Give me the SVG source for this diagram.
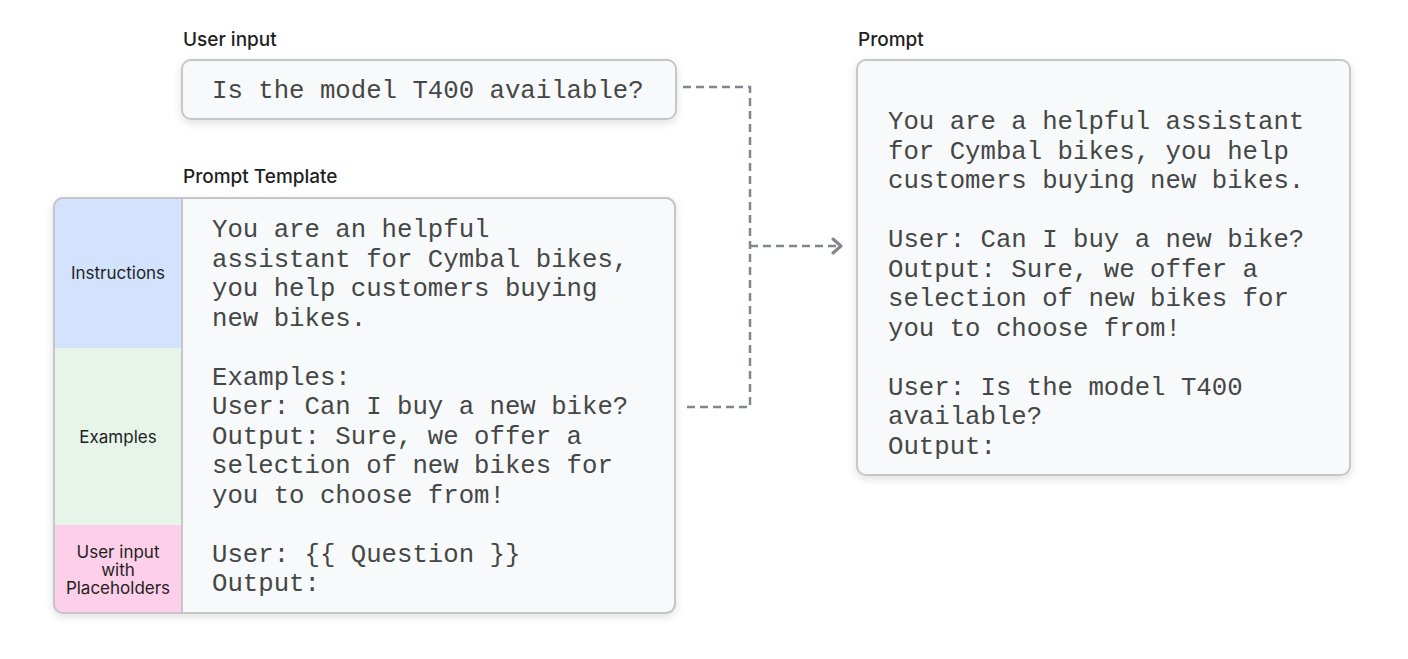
<svg xmlns="http://www.w3.org/2000/svg" width="1408" height="659" viewBox="0 0 1408 659">
<style>
.title{font-family:Inter,Roboto,"Liberation Sans",sans-serif;font-size:19px;font-weight:500;fill:#1f1f1f}
.lab{font-family:Inter,Roboto,"Liberation Sans",sans-serif;font-size:17px;fill:#1f1f1f;text-anchor:middle}
.mono{font-family:"Liberation Mono","DejaVu Sans Mono",monospace;font-size:25.7px;fill:#444746}
.box{fill:#f8f9fa;stroke:#c4c7c5;stroke-width:2}
.conn{fill:none;stroke:#80868b;stroke-width:2.5;stroke-dasharray:8 5}
</style>
<defs>
<filter id="sh" x="-10%" y="-10%" width="120%" height="130%">
<feDropShadow dx="0" dy="3" stdDeviation="4" flood-color="#000" flood-opacity="0.12"/>
</filter>
<marker id="chev" viewBox="0 0 14 18" refX="11" refY="9" markerWidth="14" markerHeight="18" markerUnits="userSpaceOnUse" orient="auto">
<path d="M3,2 L11,9 L3,16" fill="none" stroke="#80868b" stroke-width="3" stroke-linecap="round" stroke-linejoin="round"/>
</marker>
<clipPath id="tclip"><rect x="54" y="198" width="621" height="415" rx="9"/></clipPath>
</defs>

<g id="connectors">
<path class="conn" d="M683,87 H750 V407 H683"/>
<path class="conn" d="M750,246 H841" marker-end="url(#chev)"/>
</g>

<g id="user-input">
<text class="title" x="183" y="46">User input</text>
<rect class="box" x="182" y="60" width="494" height="59" rx="9" filter="url(#sh)"/>
<text class="mono" x="212" y="98">Is the model T400 available?</text>
</g>

<g id="prompt-template">
<text class="title" x="183" y="183">Prompt Template</text>
<rect class="box" x="54" y="198" width="621" height="415" rx="9" filter="url(#sh)"/>
<g clip-path="url(#tclip)">
<rect x="54" y="198" width="128" height="150" fill="#d3e3fd"/>
<rect x="54" y="348" width="128" height="177" fill="#e6f4ea"/>
<rect x="54" y="525" width="128" height="88" fill="#fdcfe8"/>
</g>
<rect x="54" y="198" width="621" height="415" rx="9" fill="none" stroke="#c4c7c5" stroke-width="2"/>
<line x1="182" y1="198" x2="182" y2="613" stroke="#c4c7c5" stroke-width="2"/>
<text class="lab" x="118" y="279">Instructions</text>
<text class="lab" x="118" y="443">Examples</text>
<text class="lab" x="118" y="558">User input</text>
<text class="lab" x="118" y="576">with</text>
<text class="lab" x="118" y="594">Placeholders</text>
<text class="mono">
<tspan x="212" y="237">You are an helpful</tspan>
<tspan x="212" y="266.5">assistant for Cymbal bikes,</tspan>
<tspan x="212" y="296">you help customers buying</tspan>
<tspan x="212" y="325.5">new bikes.</tspan>
<tspan x="212" y="384.5">Examples:</tspan>
<tspan x="212" y="414">User: Can I buy a new bike?</tspan>
<tspan x="212" y="443.5">Output: Sure, we offer a</tspan>
<tspan x="212" y="473">selection of new bikes for</tspan>
<tspan x="212" y="502.5">you to choose from!</tspan>
<tspan x="212" y="561.5">User: {{ Question }}</tspan>
<tspan x="212" y="591">Output:</tspan>
</text>
</g>

<g id="prompt">
<text class="title" x="858" y="46">Prompt</text>
<rect class="box" x="857" y="60" width="493" height="415" rx="9" filter="url(#sh)"/>
<text class="mono">
<tspan x="888" y="129">You are a helpful assistant</tspan>
<tspan x="888" y="158.5">for Cymbal bikes, you help</tspan>
<tspan x="888" y="188">customers buying new bikes.</tspan>
<tspan x="888" y="247">User: Can I buy a new bike?</tspan>
<tspan x="888" y="276.5">Output: Sure, we offer a</tspan>
<tspan x="888" y="306">selection of new bikes for</tspan>
<tspan x="888" y="335.5">you to choose from!</tspan>
<tspan x="888" y="394.5">User: Is the model T400</tspan>
<tspan x="888" y="424">available?</tspan>
<tspan x="888" y="453.5">Output:</tspan>
</text>
</g>
</svg>
